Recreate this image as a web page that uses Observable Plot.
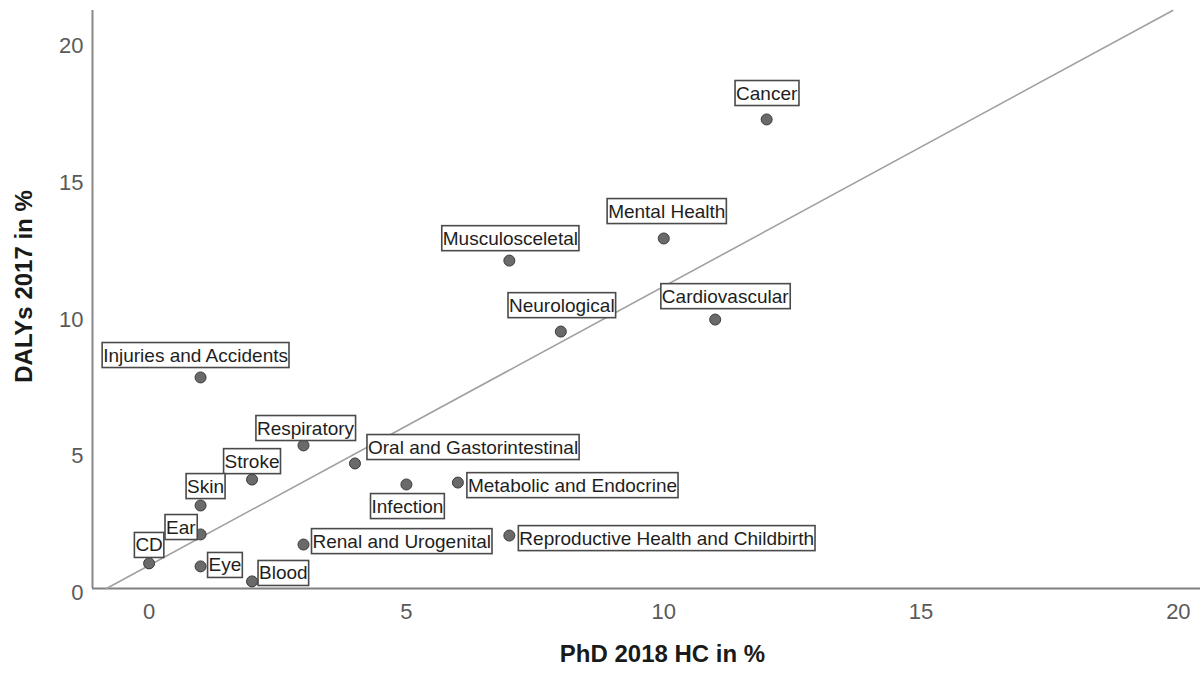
<!DOCTYPE html>
<html>
<head>
<meta charset="utf-8">
<script src="https://cdn.jsdelivr.net/npm/d3@7"></script>
<script src="https://cdn.jsdelivr.net/npm/@observablehq/plot@0.6"></script>
<style>
  body { margin: 0; background: #fff; }
  svg { display: block; }
</style>
</head>
<body>
<div id="chart"></div>
<script>
// Disease areas: share of PhD theses (2018) vs share of DALYs (2017)
const categories = [
  "Cancer", "Mental Health", "Musculosceletal", "Cardiovascular", "Neurological",
  "Injuries and Accidents", "Respiratory", "Oral and Gastorintestinal", "Stroke",
  "Metabolic and Endocrine", "Infection", "Skin", "Ear",
  "Reproductive Health and Childbirth", "Renal and Urogenital", "CD", "Eye", "Blood"
];
const phd2018 = [12, 10, 7, 11, 8, 1, 3, 4, 2, 6, 5, 1, 1, 7, 3, 0, 1, 2];
const dalys2017 = [17.18, 12.82, 12.01, 9.85, 9.41, 7.73, 5.24, 4.58, 3.99, 3.88, 3.81, 3.04, 1.98, 1.94, 1.61, 0.92, 0.81, 0.26];
const xTicks = [0, 5, 10, 15, 20];
const yTicks = [0, 5, 10, 15, 20];
const xTitle = "PhD 2018 HC in %";
const yTitle = "DALYs 2017 in %";

// Where each case label sits relative to its point (text anchor + pixel nudge)
const labelPlacement = {
  "Cancer": {anchor: "middle", dx: 0, dy: -26},
  "Mental Health": {anchor: "middle", dx: 3, dy: -27},
  "Musculosceletal": {anchor: "middle", dx: 1, dy: -22},
  "Cardiovascular": {anchor: "middle", dx: 10, dy: -23},
  "Neurological": {anchor: "middle", dx: 1, dy: -26},
  "Injuries and Accidents": {anchor: "middle", dx: -5, dy: -22},
  "Respiratory": {anchor: "middle", dx: 2, dy: -17},
  "Oral and Gastorintestinal": {anchor: "start", dx: 13, dy: -16},
  "Stroke": {anchor: "middle", dx: 0, dy: -18},
  "Metabolic and Endocrine": {anchor: "start", dx: 10, dy: 3},
  "Infection": {anchor: "middle", dx: 1, dy: 22},
  "Skin": {anchor: "middle", dx: 5, dy: -19},
  "Ear": {anchor: "end", dx: -5, dy: -7},
  "Reproductive Health and Childbirth": {anchor: "start", dx: 10, dy: 3},
  "Renal and Urogenital": {anchor: "start", dx: 9, dy: -3},
  "CD": {anchor: "middle", dx: 0, dy: -18},
  "Eye": {anchor: "start", dx: 8, dy: -1},
  "Blood": {anchor: "start", dx: 7, dy: -8}
};

const rows = categories.map((name, i) => ({name, phd: phd2018[i], dalys: dalys2017[i]}));

const xDomain = [-1.1, 20.43];
const yDomain = [0, 21.17];

// Least-squares fit line over all cases, drawn across the plotting area
const mx = d3.mean(phd2018), my = d3.mean(dalys2017);
const sxy = d3.sum(phd2018, (x, i) => (x - mx) * (dalys2017[i] - my));
const sxx = d3.sum(phd2018, x => (x - mx) ** 2);
const slope = sxy / sxx;
const intercept = my - slope * mx;
const fitX0 = Math.max(xDomain[0], (yDomain[0] - intercept) / slope);
const fitX1 = Math.min(xDomain[1], (yDomain[1] - intercept) / slope);
const fitLine = [fitX0, fitX1].map(x => ({x, y: intercept + slope * x}));

const font = "'Liberation Sans', Arial, sans-serif";

const labelMarks = rows.map(d => {
  const p = labelPlacement[d.name];
  return Plot.text([d], {
    x: "phd", y: "dalys", text: "name",
    textAnchor: p.anchor, dx: p.dx, dy: p.dy,
    fontSize: 19, fill: "#1e1e1e", lineAnchor: "middle"
  });
});

const chart = Plot.plot({
  width: 1200,
  height: 675,
  marginLeft: 92,
  marginRight: 0,
  marginTop: 10,
  marginBottom: 87,
  style: {fontFamily: font, background: "#fff", color: "#5a5a5a"},
  x: {domain: xDomain, label: null},
  y: {domain: yDomain, label: null},
  marks: [
    Plot.axisX(xTicks, {tickSize: 0, tickPadding: 15, fontSize: 22, label: null}),
    Plot.axisY(yTicks, {tickSize: 0, tickPadding: 9, fontSize: 22, label: null, dy: 4}),
    Plot.ruleX([xDomain[0]], {stroke: "#888", strokeWidth: 2}),
    Plot.ruleY([0], {stroke: "#808080", strokeWidth: 2}),
    Plot.line(fitLine, {x: "x", y: "y", stroke: "#a0a0a0", strokeWidth: 1.6}),
    Plot.dot(rows, {x: "phd", y: "dalys", r: 5.5, fill: "#6a6a6a", stroke: "#3a3a3a", strokeWidth: 1}),
    ...labelMarks,
    Plot.text([xTitle], {frameAnchor: "bottom", textAnchor: "middle", dx: 16, dy: 73, fontSize: 24, fontWeight: "bold", fill: "#1a1a1a"}),
    Plot.text([yTitle], {frameAnchor: "left", textAnchor: "middle", rotate: -90, dx: -68, dy: -13, fontSize: 24, fontWeight: "bold", fill: "#1a1a1a"})
  ]
});

document.getElementById("chart").appendChild(chart);

// Boxed case labels: white rectangle with a grey border behind each label
const svgNS = "http://www.w3.org/2000/svg";
const labelNames = new Set(categories);
Array.from(chart.querySelectorAll("text"))
  .filter(t => labelNames.has(t.textContent.trim()))
  .forEach(t => {
    const b = t.getBBox();
    const padX = 1, padY = 2;
    const r = document.createElementNS(svgNS, "rect");
    r.setAttribute("x", b.x - padX);
    r.setAttribute("y", b.y - padY);
    r.setAttribute("width", b.width + 2 * padX);
    r.setAttribute("height", b.height + 2 * padY);
    r.setAttribute("fill", "#fff");
    r.setAttribute("stroke", "#4a4a4a");
    r.setAttribute("stroke-width", 1.6);
    const tr = t.getAttribute("transform");
    if (tr) r.setAttribute("transform", tr);
    t.parentNode.insertBefore(r, t);
  });
</script>
</body>
</html>
